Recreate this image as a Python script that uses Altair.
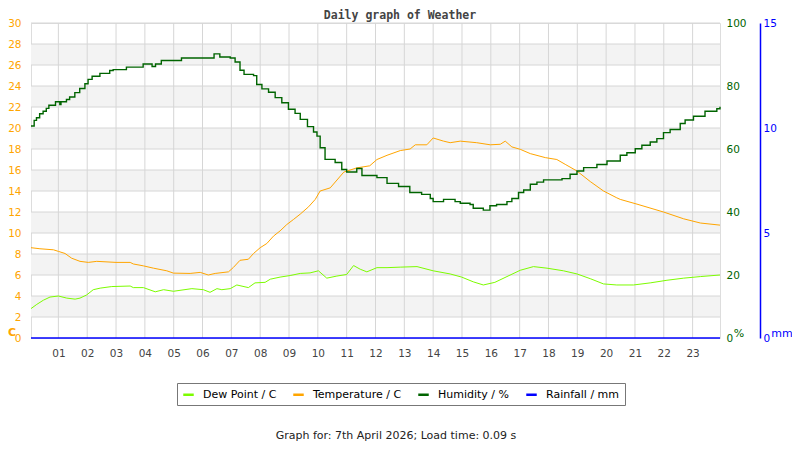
import altair as alt
import pandas as pd

# ---------------- data ----------------
temp_hours = [0.05, 0.36, 0.83, 1.0, 1.23, 1.46, 1.75, 2.04, 2.33, 3.0, 3.49, 3.6, 3.95, 4.3, 4.76,
              4.99, 5.57, 5.92, 6.2, 6.44, 6.9, 7.07, 7.3, 7.59, 7.77, 8.0, 8.23, 8.46, 8.69, 8.92,
              9.16, 9.39, 9.68, 9.91, 10.08, 10.43, 10.9, 11.35, 11.8, 12.05, 12.4, 12.86, 13.2,
              13.38, 13.78, 14.0, 14.36, 14.59, 14.94, 15.51, 15.98, 16.33, 16.5, 16.73, 17.02,
              17.37, 17.89, 18.29, 18.58, 18.99, 19.45, 19.91, 20.37, 20.49, 21.07, 21.99,
              22.69, 23.27, 23.95]
temp_vals = [8.6, 8.5, 8.4, 8.25, 8.05, 7.6, 7.3, 7.2, 7.3, 7.2, 7.2, 7.05, 6.87, 6.65, 6.4,
             6.18, 6.15, 6.25, 6.0, 6.15, 6.3, 6.72, 7.4, 7.5, 8.05, 8.6, 9.0, 9.7, 10.2, 10.8,
             11.3, 11.8, 12.5, 13.2, 14.0, 14.3, 15.8, 16.2, 16.4, 17.0, 17.4, 17.85, 18.0,
             18.4, 18.4, 19.05, 18.75, 18.6, 18.75, 18.6, 18.4, 18.45, 18.75, 18.2, 17.97,
             17.56, 17.18, 17.0, 16.54, 15.9, 14.9, 14.0, 13.35, 13.2, 12.75, 12.0,
             11.35, 10.95, 10.75]

dew_hours = [0.05, 0.25, 0.48, 0.71, 1.0, 1.29, 1.58, 1.75, 1.98, 2.21, 2.45, 2.85, 3.49, 3.6,
             3.95, 4.36, 4.65, 4.99, 5.63, 6.03, 6.26, 6.5, 6.67, 6.96, 7.19, 7.59, 7.82, 8.17,
             8.35, 8.69, 9.04, 9.39, 9.73, 10.02, 10.31, 10.66, 11.0, 11.24, 11.47, 11.7, 12.05,
             12.4, 12.86, 13.44, 14.0, 14.59, 14.99, 15.39, 15.74, 16.14, 16.56, 17.02, 17.48,
             17.95, 18.52, 18.99, 19.45, 19.91, 20.37, 20.95, 21.53, 22.11, 22.69, 23.27, 23.95]
dew_vals = [2.8, 3.2, 3.6, 3.9, 4.0, 3.8, 3.7, 3.8, 4.1, 4.6, 4.75, 4.9, 4.95, 4.8,
            4.8, 4.4, 4.6, 4.45, 4.7, 4.6, 4.35, 4.7, 4.6, 4.7, 5.05, 4.8, 5.25, 5.3,
            5.6, 5.8, 5.95, 6.15, 6.2, 6.4, 5.7, 5.9, 6.05, 6.9, 6.55, 6.3, 6.7,
            6.7, 6.75, 6.8, 6.4, 6.1, 5.8, 5.35, 5.05, 5.3, 5.85, 6.45, 6.8,
            6.65, 6.4, 6.1, 5.65, 5.15, 5.05, 5.05, 5.25, 5.5, 5.7, 5.85, 6.0]

hum_hours = [0.05, 0.16, 0.24, 0.35, 0.47, 0.58, 0.67, 0.9, 1.05, 1.09, 1.28, 1.39, 1.57, 1.74,
             1.92, 2.03, 2.17, 2.44, 2.78, 2.9, 3.36, 3.94, 4.25, 4.37, 4.57, 5.27, 6.4, 6.6,
             6.96, 7.13, 7.3, 7.44, 7.77, 7.88, 8.06, 8.29, 8.52, 8.75, 8.98, 9.21, 9.39, 9.64,
             9.85, 9.97, 10.08, 10.25, 10.6, 10.83, 11.0, 11.35, 11.53, 12.05, 12.4, 12.8,
             13.19, 13.6, 13.9, 14.0, 14.36, 14.76, 14.94, 15.28, 15.39, 15.74, 15.97, 16.2,
             16.56, 16.73, 16.96, 17.14, 17.37, 17.6, 17.83, 18.47, 18.75, 18.99, 19.22, 19.68,
             20.03, 20.49, 20.72, 21.01, 21.24, 21.53, 21.76, 21.99, 22.22, 22.57, 22.74, 23.03,
             23.43, 23.84, 23.95]
hum_vals = [67.3, 69.1, 69.9, 71.2, 72.0, 72.9, 73.9, 75.0, 74.1, 75.0, 75.7, 76.5, 77.9, 79.2,
            80.7, 82.1, 83.1, 84.0, 84.9, 85.2, 86.0, 87.0, 86.2, 87.0, 88.1, 88.9, 90.2, 89.2,
            88.9, 87.6, 85.0, 83.7, 83.3, 80.5, 79.1, 78.0, 76.3, 74.7, 72.6, 71.3, 69.4, 67.1,
            65.4, 64.1, 60.4, 56.7, 55.7, 53.5, 52.7, 53.8, 51.6, 50.9, 49.1, 48.1,
            46.2, 45.6, 44.3, 43.3, 44.0, 43.3, 42.8, 42.4, 41.2, 40.6, 42.0, 42.4,
            43.3, 44.3, 46.2, 47.0, 48.8, 49.5, 50.2, 50.6, 52.0, 53.0, 54.1, 55.1,
            56.2, 58.0, 58.8, 60.1, 61.2, 62.2, 63.3, 65.2, 66.2, 68.1, 69.2, 70.4,
            72.0, 72.8, 73.4]

rain_hours = [0.05, 23.95]
rain_vals = [0.0, 0.0]

series_names = ["Dew Point / C", "Temperature / C", "Humidity / %", "Rainfall / mm"]
series_colors = ["#7CFC00", "#FFA500", "#006400", "#0000FF"]

x_ticks = list(range(1, 24))
temp_ticks = list(range(0, 31, 2))
hum_ticks = [0, 20, 40, 60, 80, 100]
rain_ticks = [0, 5, 10, 15]
band_starts = [2, 6, 10, 14, 18, 22, 26]
grid_lines = list(range(2, 31, 2))

title_text = "Daily graph of Weather"
footer_text = "Graph for: 7th April 2026; Load time: 0.09 s"

# ---------------- tables ----------------
df_temp = pd.DataFrame({"hour": temp_hours, "value": temp_vals, "series": series_names[1]})
df_dew = pd.DataFrame({"hour": dew_hours, "value": dew_vals, "series": series_names[0]})
df_hum = pd.DataFrame({"hour": hum_hours, "value": hum_vals, "series": series_names[2]})
df_rain = pd.DataFrame({"hour": rain_hours, "value": rain_vals, "series": series_names[3]})
df_bands = pd.DataFrame({"y0": band_starts, "y1": [b + 2 for b in band_starts]})
df_hgrid = pd.DataFrame({"v": grid_lines})
df_vgrid = pd.DataFrame({"h": x_ticks})

W, H = 689, 315
FONT = "DejaVu Sans"
GRID = "#d6d6d6"

xscale = alt.Scale(domain=[0.05, 23.95], nice=False, zero=False)
xaxis = alt.Axis(values=x_ticks, grid=False, ticks=False, domain=False, title=None,
                 labelExpr="datum.value < 10 ? '0' + datum.value : '' + datum.value",
                 labelColor="#444444", labelFont=FONT, labelFontSize=10.5, labelPadding=10)
tscale = alt.Scale(domain=[0, 30], nice=False, zero=True)
taxis = alt.Axis(values=temp_ticks, grid=False, ticks=False, domain=False, title=None,
                 labelColor="#FFA500", labelFont=FONT, labelFontSize=10.5, labelPadding=10,
                 orient="left")

color = alt.Color("series:N",
                  scale=alt.Scale(domain=series_names, range=series_colors),
                  legend=alt.Legend(orient="none", legendX=146, legendY=360,
                                    direction="horizontal", title=None,
                                    symbolType="stroke", symbolStrokeWidth=2.5,
                                    symbolSize=110, strokeColor="#777777", padding=5,
                                    labelFont=FONT, labelFontSize=11, labelColor="#000000",
                                    columnPadding=11, labelOffset=8))

X = lambda f: alt.X(f, scale=xscale, axis=xaxis)

bands = alt.Chart(df_bands).mark_rect(color="#f3f3f3").encode(
    x=alt.datum(0.05, scale=xscale, axis=xaxis),
    x2=alt.datum(23.95),
    y=alt.Y("y0:Q", scale=tscale, axis=taxis),
    y2="y1:Q",
)
hgrid = alt.Chart(df_hgrid).mark_rule(color=GRID, strokeWidth=1).encode(
    y=alt.Y("v:Q", scale=tscale, axis=taxis)
)
vgrid = alt.Chart(df_vgrid).mark_rule(color=GRID, strokeWidth=1).encode(
    x=X("h:Q")
)
dew_line = alt.Chart(df_dew).mark_line(strokeWidth=1).encode(
    x=X("hour:Q"), y=alt.Y("value:Q", scale=tscale, axis=taxis), color=color
)
temp_line = alt.Chart(df_temp).mark_line(strokeWidth=1).encode(
    x=X("hour:Q"), y=alt.Y("value:Q", scale=tscale, axis=taxis), color=color
)
temp_group = alt.layer(bands, hgrid, vgrid, dew_line, temp_line)

hum_line = alt.Chart(df_hum).mark_line(strokeWidth=1.4, interpolate="step-after").encode(
    x=X("hour:Q"),
    y=alt.Y("value:Q", scale=alt.Scale(domain=[0, 100], nice=False),
            axis=alt.Axis(orient="right", values=hum_ticks, grid=False, ticks=False,
                          domain=False, title=None, labelColor="#006400", labelFont=FONT,
                          labelFontSize=10.5, labelPadding=6)),
    color=color,
)
rain_line = alt.Chart(df_rain).mark_line(strokeWidth=1.6).encode(
    x=X("hour:Q"),
    y=alt.Y("value:Q", scale=alt.Scale(domain=[0, 15], nice=False),
            axis=alt.Axis(orient="right", offset=40, values=rain_ticks, grid=False,
                          ticks=False, domain=True, domainColor="#0000FF", domainWidth=1.5,
                          title=None, labelColor="#0000FF", labelFont=FONT,
                          labelFontSize=10.5, labelPadding=3)),
    color=color,
)

def label(text, x, y, **kw):
    return alt.Chart(pd.DataFrame({"t": [text]})).mark_text(**kw).encode(
        text="t:N", x=alt.value(x), y=alt.value(y))

title = label(title_text, 369, -7, font="DejaVu Sans Mono", fontSize=11.5, fontWeight="bold",
              color="#444444", align="center", baseline="middle")
footer = label(footer_text, 365, 413, font=FONT, fontSize=11, color="#222222",
               align="center", baseline="middle")
c_lab = label("C", -19, 310, font=FONT, fontSize=11, fontWeight="bold", color="#FFA500",
              align="center", baseline="middle")
pct_lab = label("%", 708, 311, font=FONT, fontSize=11, color="#006400",
                align="center", baseline="middle")
mm_lab = label("mm", 751, 311, font=FONT, fontSize=11, color="#0000FF",
               align="center", baseline="middle")

chart = alt.layer(temp_group, hum_line, rain_line, title, footer, c_lab, pct_lab, mm_lab).resolve_scale(
    y="independent"
).properties(
    width=W, height=H,
    autosize=alt.AutoSizeParams(type="none"),
    padding={"left": 23, "top": 15, "right": 72, "bottom": 104},
).configure_view(stroke=GRID).configure(background="white")

chart.save("out.html", embed_options={"renderer": "svg", "actions": False})
